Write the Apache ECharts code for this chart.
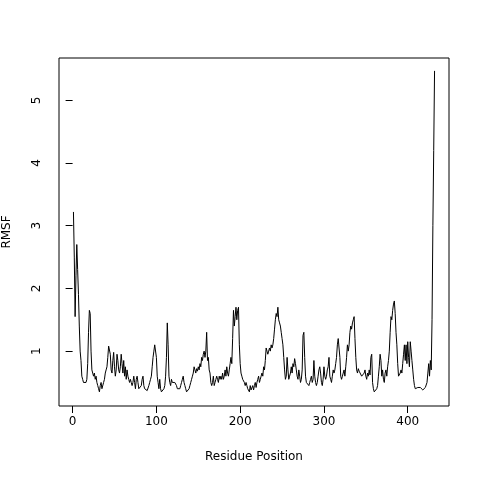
<!DOCTYPE html>
<html>
<head>
<meta charset="utf-8">
<script src="https://cdn.jsdelivr.net/npm/echarts@6/dist/echarts.min.js"></script>
<style>html,body{margin:0;padding:0;background:#fff}#chart{width:480px;height:480px}</style>
</head>
<body>
<div id="chart"></div>
<script>
// RMSF per residue, residues 1..432
const rmsf = [
    3.22, 2.5, 1.55, 2.2, 2.7, 2.3, 1.9, 1.4, 1.0, 0.85, 0.6, 0.55, 0.5, 0.48, 0.5, 0.5, 0.55, 0.8, 1.3, 1.65,
    1.6, 1.0, 0.7, 0.65, 0.6,
    0.65, 0.55, 0.6, 0.5, 0.45, 0.4, 0.35, 0.45, 0.5, 0.4,
    0.42, 0.5, 0.55, 0.65, 0.7, 0.75, 0.9, 1.08, 1.05, 0.95,
    0.7, 0.65, 0.85, 0.98, 0.75, 0.6, 0.7, 0.95, 0.85, 0.7,
    0.65, 0.75, 0.95, 0.8, 0.65, 0.85, 0.6, 0.75, 0.55, 0.7,
    0.6, 0.55, 0.5, 0.55, 0.5, 0.45, 0.5, 0.6, 0.5, 0.4,
    0.55, 0.6, 0.5, 0.4, 0.38, 0.4, 0.45, 0.55, 0.6, 0.45,
    0.4, 0.42, 0.38, 0.37, 0.4, 0.45, 0.5, 0.55, 0.6, 0.75,
    0.9, 1.0, 1.1, 1.12,
    0.9, 0.6, 0.5, 0.4, 0.55, 0.4, 0.35, 0.33, 0.36, 0.4, 0.45, 0.6, 0.9, 1.45,
    1.1, 0.6, 0.5, 0.45, 0.55, 0.5, 0.52, 0.48, 0.5, 0.5,
    0.45, 0.4, 0.38, 0.37, 0.4, 0.45, 0.5, 0.55, 0.6, 0.5,
    0.45, 0.4, 0.35, 0.33, 0.35, 0.4, 0.45, 0.5, 0.55, 0.6,
    0.65, 0.75, 0.7, 0.65, 0.72, 0.68, 0.75, 0.7, 0.8, 0.75,
    0.9, 0.85, 0.95, 1.0, 0.9, 1.0, 1.3,
    0.85, 0.9, 0.7, 0.65, 0.5, 0.45, 0.5, 0.6, 0.45, 0.5,
    0.55, 0.6, 0.55, 0.5, 0.6, 0.55, 0.6, 0.55, 0.65, 0.55,
    0.6, 0.7, 0.6, 0.75, 0.65, 0.6, 0.7, 0.8, 0.9, 0.8,
    1.2, 1.65, 1.4, 1.55, 1.7, 1.5, 1.65, 1.7,
    1.1, 0.8, 0.65, 0.6, 0.55, 0.55, 0.5, 0.45, 0.5, 0.45,
    0.4, 0.38, 0.35, 0.45, 0.38, 0.4, 0.45, 0.38, 0.45, 0.5,
    0.42, 0.5, 0.55, 0.6, 0.5, 0.55, 0.6, 0.65, 0.6, 0.75,
    0.7, 0.85, 1.05, 1.0, 0.95, 1.0, 1.05, 1.0, 1.1, 1.05,
    1.1, 1.2, 1.35, 1.5, 1.6, 1.55, 1.7, 1.5,
    1.45, 1.4, 1.3, 1.2, 1.1, 0.9, 0.7, 0.55, 0.6, 0.9,
    0.7, 0.55, 0.6, 0.65, 0.75, 0.65, 0.8, 0.75, 0.88, 0.8,
    0.7, 0.6, 0.55, 0.7, 0.6, 0.5, 0.55, 0.7, 1.25, 1.3,
    0.9, 0.6, 0.5, 0.48, 0.5, 0.45, 0.5, 0.55, 0.6, 0.5,
    0.55, 0.85, 0.6, 0.5, 0.45, 0.5, 0.6, 0.7, 0.75, 0.65,
    0.5, 0.45, 0.55, 0.75, 0.6, 0.55, 0.6, 0.7, 0.75, 0.9,
    0.6, 0.55, 0.5, 0.6, 0.7, 0.65, 0.7, 0.8, 0.9, 1.1, 1.2, 1.2,
    0.9, 0.6, 0.55, 0.6, 0.65, 0.7, 0.6, 0.75, 0.9, 1.1,
    1.0, 1.1, 1.3, 1.4, 1.35, 1.45, 1.5, 1.55,
    1.2, 0.9, 0.7, 0.65, 0.72, 0.68, 0.7, 0.65, 0.6, 0.62,
    0.6, 0.65, 0.7, 0.6, 0.55, 0.65, 0.6, 0.7, 0.62, 0.9,
    0.95, 0.5, 0.4, 0.35, 0.37, 0.38, 0.4, 0.45, 0.6, 0.75,
    0.95, 0.85, 0.6, 0.7, 0.55, 0.5, 0.65, 0.7, 0.6, 0.75,
    0.85, 1.0, 1.3, 1.55, 1.5, 1.65, 1.75, 1.8, 1.6, 1.3,
    1.1, 0.8, 0.6, 0.6, 0.65, 0.7, 0.65, 0.8, 0.95, 1.1,
    0.85, 1.1, 0.8, 1.15, 0.9, 0.75, 1.15, 1.0, 0.85, 0.7,
    0.55, 0.45, 0.4, 0.38, 0.4, 0.42, 0.4, 0.4, 0.42, 0.4,
    0.4, 0.38, 0.37, 0.4, 0.42, 0.4, 0.5, 0.65, 0.8, 0.6, 0.85, 0.7, 1.5, 3.0, 4.2, 5.47
];
const xTicks = [0, 100, 200, 300, 400];
const yTicks = [1, 2, 3, 4, 5];

const points = rmsf.map(function (v, i) { return [i + 1, v]; });
const n = points.length;
const yMinV = Math.min.apply(null, rmsf);
const yMaxV = Math.max.apply(null, rmsf);
const xPad = (n - 1) * 0.04;
const yPad = (yMaxV - yMinV) * 0.04;

const chart = echarts.init(document.getElementById('chart'));
const font = 'DejaVu Sans';
chart.setOption({
    animation: false,
    grid: {
        left: 59, right: 31, top: 58, bottom: 74,
        containLabel: false, outerBoundsMode: 'none',
        show: true, borderColor: '#000', borderWidth: 1
    },
    xAxis: {
        type: 'value', min: 1 - xPad, max: n + xPad,
        name: 'Residue Position', nameLocation: 'middle', nameGap: 45,
        nameTextStyle: { color: '#000', fontSize: 12, fontFamily: font },
        axisLine: { show: false },
        axisTick: { show: true, inside: false, length: 7, customValues: xTicks, lineStyle: { color: '#000' } },
        axisLabel: { customValues: xTicks, color: '#000', fontSize: 12, fontFamily: font, margin: 10 },
        splitLine: { show: false }
    },
    yAxis: {
        type: 'value', min: yMinV - yPad, max: yMaxV + yPad,
        name: 'RMSF', nameLocation: 'middle', nameGap: 46, nameRotate: 90,
        nameTextStyle: { color: '#000', fontSize: 12, fontFamily: font },
        axisLine: { show: false },
        axisTick: { show: true, inside: false, length: 7, customValues: yTicks, lineStyle: { color: '#000' } },
        axisLabel: { customValues: yTicks, rotate: 90, color: '#000', fontSize: 12, fontFamily: font, margin: 16 },
        splitLine: { show: false }
    },
    series: [{
        type: 'line', data: points, showSymbol: false,
        lineStyle: { color: '#000', width: 1 }
    }]
});
</script>
</body>
</html>
